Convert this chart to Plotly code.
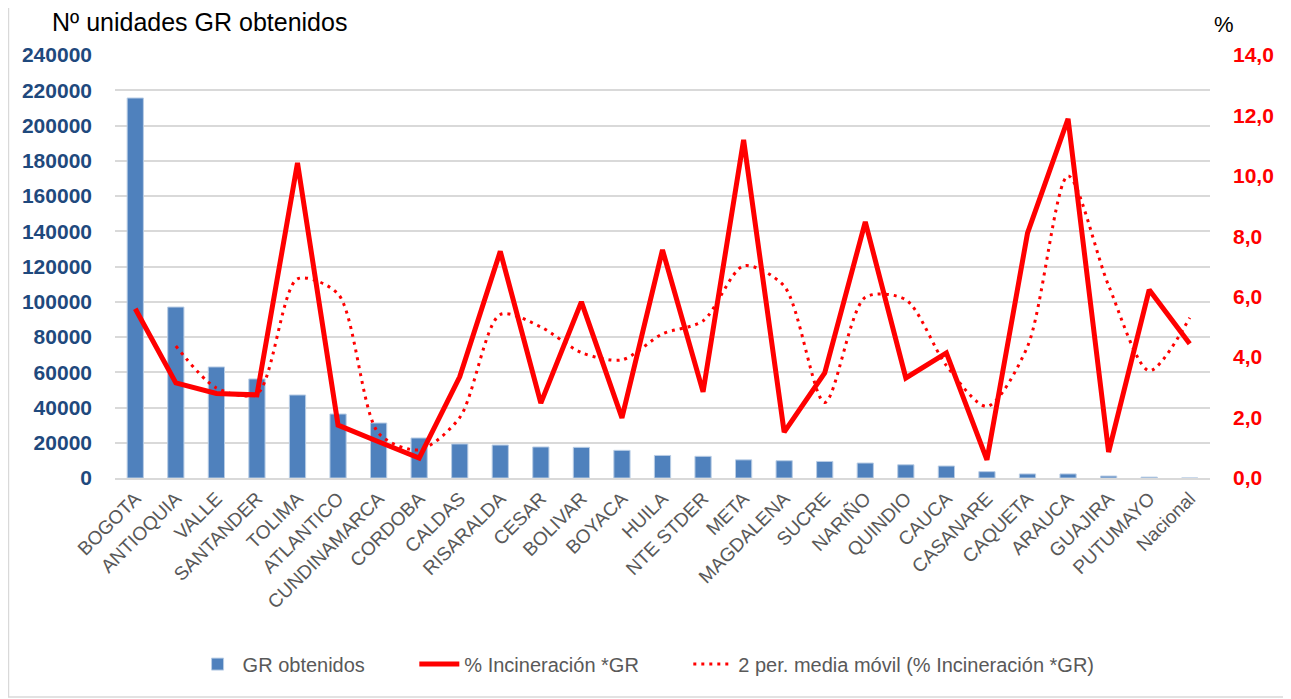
import plotly.graph_objects as go

departamentos = [
    "BOGOTA", "ANTIOQUIA", "VALLE", "SANTANDER", "TOLIMA", "ATLANTICO",
    "CUNDINAMARCA", "CORDOBA", "CALDAS", "RISARALDA", "CESAR", "BOLIVAR",
    "BOYACA", "HUILA", "NTE STDER", "META", "MAGDALENA", "SUCRE", "NARIÑO",
    "QUINDIO", "CAUCA", "CASANARE", "CAQUETA", "ARAUCA", "GUAJIRA",
    "PUTUMAYO", "Nacional",
]

gr_obtenidos = [
    215600, 97000, 63000, 56200, 47100, 36300, 31200, 22700, 19300, 18700,
    17600, 17400, 15700, 12800, 12300, 10300, 9800, 9400, 8500, 7500,
    6800, 3600, 2300, 2300, 1100, 500, 0,
]

pct_incineracion = [
    5.6, 3.15, 2.8, 2.75, 10.43, 1.75, 1.2, 0.66, 3.35, 7.5,
    2.48, 5.83, 1.99, 7.55, 2.85, 11.19, 1.52, 3.48, 8.48, 3.31,
    4.14, 0.6, 8.1, 11.89, 0.86, 6.23, 4.44,
]

# 2 per. media móvil, first period has no value
media_movil = [
    None, 4.37, 2.98, 2.78, 6.59, 6.09, 1.48, 0.93, 2.0, 5.41,
    5.0, 4.15, 3.91, 4.77, 5.2, 7.02, 6.35, 2.5, 5.98, 5.9,
    3.72, 2.37, 4.35, 10.0, 6.37, 3.55, 5.3,
]

left_ticks = list(range(0, 240001, 20000))
right_ticks = [0, 2, 4, 6, 8, 10, 12, 14]

FONT = "Liberation Sans"
PAD = "\u00a0" * 8   # spacing between legend entries

fig = go.Figure()

fig.add_trace(go.Bar(
    x=departamentos, y=gr_obtenidos, name="GR obtenidos" + PAD,
    marker=dict(color="#4F81BD", line=dict(color="#B9CDE5", width=1)),
    width=0.4,
))
fig.add_trace(go.Scatter(
    x=departamentos, y=pct_incineracion, name="% Incineración *GR" + PAD,
    yaxis="y2", mode="lines",
    line=dict(color="#FF0000", width=5),
))
fig.add_trace(go.Scatter(
    x=departamentos, y=media_movil,
    name="2 per. media móvil (% Incineración *GR)",
    yaxis="y2", mode="lines",
    line=dict(color="#FF0000", width=3, dash="3px,5px", shape="spline", smoothing=0.8),
))

# page body has an 8px margin, so the figure is a bit smaller than the window
fig.update_layout(
    width=1283, height=691,
    margin=dict(l=107, r=81, t=47, b=221),
    paper_bgcolor="white", plot_bgcolor="white",
    separators=",.",
    font=dict(family=FONT, color="#595959"),
    showlegend=True,
    bargap=0.6,
    legend=dict(
        orientation="h", x=0.485, xanchor="center", y=-0.44, yanchor="middle",
        font=dict(family=FONT, size=20, color="#595959"),
        traceorder="normal", itemwidth=40,
    ),
    xaxis=dict(
        type="category", tickangle=-45, showgrid=False,
        tickfont=dict(family=FONT, size=19, color="#595959"),
        showline=True, linecolor="#D9D9D9", linewidth=2,
        range=[-0.5, len(departamentos) - 0.5],
    ),
    yaxis=dict(
        range=[0, 240000], tickvals=left_ticks, tickformat="d",
        tickfont=dict(family=FONT, size=21, color="#1F497D", weight="bold"),
        gridcolor="#D9D9D9", gridwidth=1.5, zeroline=False,
        ticklabelstandoff=22,
    ),
    yaxis2=dict(
        range=[0, 14], tickvals=right_ticks, tickformat=".1f",
        overlaying="y", side="right", showgrid=False, zeroline=False,
        tickfont=dict(family=FONT, size=21, color="#FF0000", weight="bold"),
        ticklabelstandoff=22,
    ),
    annotations=[
        dict(text="Nº unidades GR obtenidos", xref="paper", yref="paper",
             x=-0.0594, y=1.078, xanchor="left", yanchor="middle", showarrow=False,
             font=dict(family=FONT, size=25, color="#000000")),
        dict(text="%", xref="paper", yref="paper",
             x=1.0018, y=1.071, xanchor="left", yanchor="middle", showarrow=False,
             font=dict(family=FONT, size=22, color="#000000")),
    ],
    shapes=[
        # open-topped frame round the chart (left, bottom, right sides)
        dict(type="path", xref="paper", yref="paper",
             path="M -0.0973,1.12 L -0.0973,-0.518 L 1.0712,-0.518 L 1.0712,1.12",
             line=dict(color="#D9D9D9", width=1.5)),
    ],
)

fig.write_html("out.html")
